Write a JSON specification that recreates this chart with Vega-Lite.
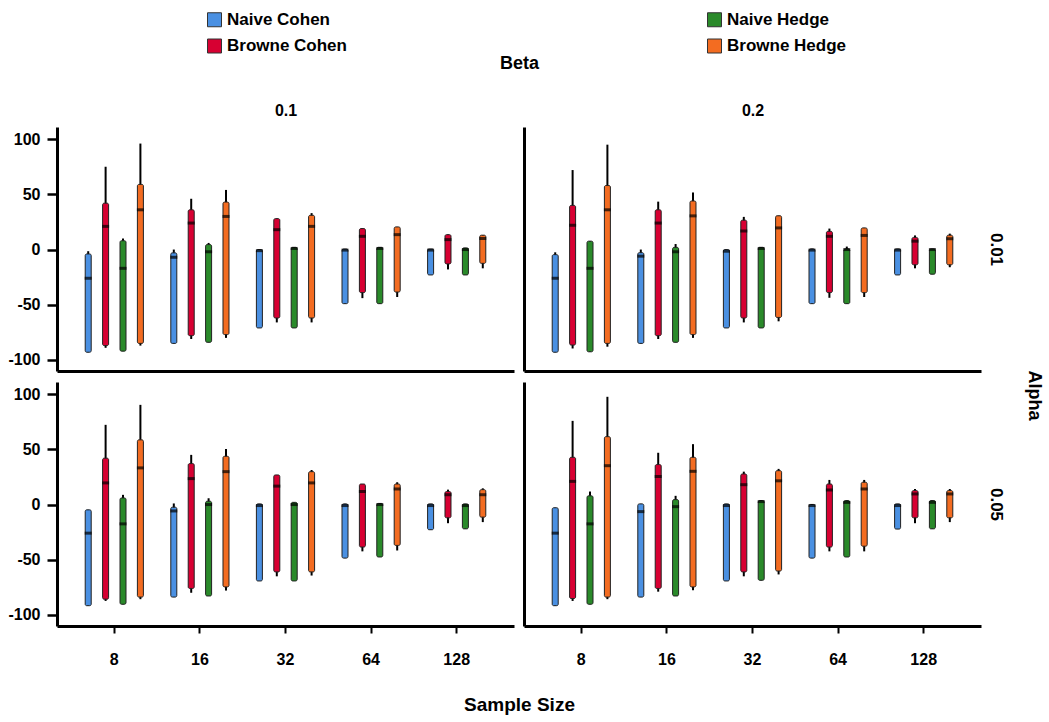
{
"$schema": "https://vega.github.io/schema/vega-lite/v6.json",
"padding": {"left": 7, "top": 11, "right": 3, "bottom": 3},
"datasets": {"d": [
{"a":"0.01","b":"0.1","n":8,"m":"Naive Cohen","lo":-93,"q1":-93,"md":-26,"q3":-4,"hi":-1.5},
{"a":"0.01","b":"0.1","n":8,"m":"Browne Cohen","lo":-89,"q1":-87,"md":21,"q3":42,"hi":75},
{"a":"0.01","b":"0.1","n":8,"m":"Naive Hedge","lo":-92,"q1":-92,"md":-17,"q3":8,"hi":10},
{"a":"0.01","b":"0.1","n":8,"m":"Browne Hedge","lo":-87,"q1":-85,"md":36,"q3":59,"hi":96},
{"a":"0.01","b":"0.1","n":16,"m":"Naive Cohen","lo":-85,"q1":-85,"md":-7,"q3":-3,"hi":0},
{"a":"0.01","b":"0.1","n":16,"m":"Browne Cohen","lo":-81,"q1":-78,"md":24,"q3":36,"hi":46},
{"a":"0.01","b":"0.1","n":16,"m":"Naive Hedge","lo":-84,"q1":-84,"md":-2,"q3":4.5,"hi":6},
{"a":"0.01","b":"0.1","n":16,"m":"Browne Hedge","lo":-80,"q1":-77,"md":30,"q3":43,"hi":54},
{"a":"0.01","b":"0.1","n":32,"m":"Naive Cohen","lo":-71,"q1":-71,"md":-1,"q3":0,"hi":0},
{"a":"0.01","b":"0.1","n":32,"m":"Browne Cohen","lo":-66,"q1":-62,"md":18,"q3":28,"hi":28},
{"a":"0.01","b":"0.1","n":32,"m":"Naive Hedge","lo":-71,"q1":-71,"md":1,"q3":2,"hi":2},
{"a":"0.01","b":"0.1","n":32,"m":"Browne Hedge","lo":-66,"q1":-62,"md":21,"q3":31,"hi":33},
{"a":"0.01","b":"0.1","n":64,"m":"Naive Cohen","lo":-49,"q1":-49,"md":-0.5,"q3":0.5,"hi":0.5},
{"a":"0.01","b":"0.1","n":64,"m":"Browne Cohen","lo":-44,"q1":-39,"md":12,"q3":19,"hi":19},
{"a":"0.01","b":"0.1","n":64,"m":"Naive Hedge","lo":-49,"q1":-49,"md":1,"q3":2,"hi":2},
{"a":"0.01","b":"0.1","n":64,"m":"Browne Hedge","lo":-43,"q1":-38.5,"md":13.5,"q3":20.5,"hi":20.5},
{"a":"0.01","b":"0.1","n":128,"m":"Naive Cohen","lo":-23,"q1":-23,"md":-0.5,"q3":0.5,"hi":0.5},
{"a":"0.01","b":"0.1","n":128,"m":"Browne Cohen","lo":-18,"q1":-13,"md":9,"q3":13.5,"hi":13.5},
{"a":"0.01","b":"0.1","n":128,"m":"Naive Hedge","lo":-23,"q1":-23,"md":0,"q3":1.5,"hi":1.5},
{"a":"0.01","b":"0.1","n":128,"m":"Browne Hedge","lo":-17,"q1":-12.5,"md":10,"q3":13,"hi":13},
{"a":"0.01","b":"0.2","n":8,"m":"Naive Cohen","lo":-93,"q1":-93,"md":-26,"q3":-4.6,"hi":-2.5},
{"a":"0.01","b":"0.2","n":8,"m":"Browne Cohen","lo":-89.6,"q1":-86.5,"md":22,"q3":40,"hi":72},
{"a":"0.01","b":"0.2","n":8,"m":"Naive Hedge","lo":-92.6,"q1":-92.6,"md":-17,"q3":7.6,"hi":7.6},
{"a":"0.01","b":"0.2","n":8,"m":"Browne Hedge","lo":-88,"q1":-85,"md":36,"q3":58,"hi":95},
{"a":"0.01","b":"0.2","n":16,"m":"Naive Cohen","lo":-85,"q1":-85,"md":-6,"q3":-2.8,"hi":0},
{"a":"0.01","b":"0.2","n":16,"m":"Browne Cohen","lo":-81,"q1":-78,"md":24,"q3":36,"hi":43.4},
{"a":"0.01","b":"0.2","n":16,"m":"Naive Hedge","lo":-84,"q1":-84,"md":-2,"q3":2,"hi":5},
{"a":"0.01","b":"0.2","n":16,"m":"Browne Hedge","lo":-80,"q1":-77,"md":30.5,"q3":44,"hi":51.7},
{"a":"0.01","b":"0.2","n":32,"m":"Naive Cohen","lo":-71,"q1":-71,"md":-1.5,"q3":0,"hi":0},
{"a":"0.01","b":"0.2","n":32,"m":"Browne Cohen","lo":-66,"q1":-62,"md":16.8,"q3":26.6,"hi":29.6},
{"a":"0.01","b":"0.2","n":32,"m":"Naive Hedge","lo":-71,"q1":-71,"md":1,"q3":2,"hi":2},
{"a":"0.01","b":"0.2","n":32,"m":"Browne Hedge","lo":-65,"q1":-61.5,"md":19.6,"q3":30.6,"hi":30.6},
{"a":"0.01","b":"0.2","n":64,"m":"Naive Cohen","lo":-49,"q1":-49,"md":-0.5,"q3":0.6,"hi":0.6},
{"a":"0.01","b":"0.2","n":64,"m":"Browne Cohen","lo":-43.7,"q1":-39,"md":12,"q3":16.5,"hi":19},
{"a":"0.01","b":"0.2","n":64,"m":"Naive Hedge","lo":-49,"q1":-49,"md":0,"q3":0.6,"hi":2.7},
{"a":"0.01","b":"0.2","n":64,"m":"Browne Hedge","lo":-43,"q1":-39,"md":12.8,"q3":19.6,"hi":19.6},
{"a":"0.01","b":"0.2","n":128,"m":"Naive Cohen","lo":-23,"q1":-23,"md":-0.5,"q3":0.6,"hi":0.6},
{"a":"0.01","b":"0.2","n":128,"m":"Browne Cohen","lo":-17,"q1":-13.8,"md":7.6,"q3":11,"hi":12.8},
{"a":"0.01","b":"0.2","n":128,"m":"Naive Hedge","lo":-22.3,"q1":-22.3,"md":0,"q3":0.6,"hi":0.6},
{"a":"0.01","b":"0.2","n":128,"m":"Browne Hedge","lo":-16,"q1":-13.8,"md":9.8,"q3":13,"hi":14.4},
{"a":"0.05","b":"0.1","n":8,"m":"Naive Cohen","lo":-91.6,"q1":-91.6,"md":-25.9,"q3":-4.8,"hi":-4.8},
{"a":"0.05","b":"0.1","n":8,"m":"Browne Cohen","lo":-87.3,"q1":-85.7,"md":19.6,"q3":42,"hi":72.2},
{"a":"0.05","b":"0.1","n":8,"m":"Naive Hedge","lo":-90.3,"q1":-90.3,"md":-17.5,"q3":6,"hi":8.8},
{"a":"0.05","b":"0.1","n":8,"m":"Browne Hedge","lo":-85.7,"q1":-83.8,"md":33.2,"q3":58.6,"hi":90.3},
{"a":"0.05","b":"0.1","n":16,"m":"Naive Cohen","lo":-83.8,"q1":-83.8,"md":-5.8,"q3":-2.4,"hi":1},
{"a":"0.05","b":"0.1","n":16,"m":"Browne Cohen","lo":-79.9,"q1":-76,"md":23.5,"q3":37.1,"hi":45},
{"a":"0.05","b":"0.1","n":16,"m":"Naive Hedge","lo":-82.8,"q1":-82.8,"md":0,"q3":3,"hi":5.7},
{"a":"0.05","b":"0.1","n":16,"m":"Browne Hedge","lo":-77.9,"q1":-74.6,"md":29.8,"q3":43.7,"hi":50.3},
{"a":"0.05","b":"0.1","n":32,"m":"Naive Cohen","lo":-69.2,"q1":-69.2,"md":-0.9,"q3":0.6,"hi":0.6},
{"a":"0.05","b":"0.1","n":32,"m":"Browne Cohen","lo":-65,"q1":-61,"md":16.7,"q3":26.8,"hi":26.8},
{"a":"0.05","b":"0.1","n":32,"m":"Naive Hedge","lo":-69.2,"q1":-69.2,"md":0,"q3":2,"hi":2},
{"a":"0.05","b":"0.1","n":32,"m":"Browne Hedge","lo":-64.3,"q1":-61,"md":19.6,"q3":29.8,"hi":31.3},
{"a":"0.05","b":"0.1","n":64,"m":"Naive Cohen","lo":-48.5,"q1":-48.5,"md":-0.9,"q3":0.6,"hi":0.6},
{"a":"0.05","b":"0.1","n":64,"m":"Browne Cohen","lo":-42.4,"q1":-38.5,"md":11.8,"q3":18.6,"hi":18.6},
{"a":"0.05","b":"0.1","n":64,"m":"Naive Hedge","lo":-47.5,"q1":-47.5,"md":0,"q3":1,"hi":1},
{"a":"0.05","b":"0.1","n":64,"m":"Browne Hedge","lo":-41.6,"q1":-37,"md":14.1,"q3":18.6,"hi":20.2},
{"a":"0.05","b":"0.1","n":128,"m":"Naive Cohen","lo":-22.8,"q1":-22.8,"md":-0.9,"q3":0.6,"hi":0.6},
{"a":"0.05","b":"0.1","n":128,"m":"Browne Cohen","lo":-16.9,"q1":-12,"md":8.9,"q3":11.8,"hi":13.5},
{"a":"0.05","b":"0.1","n":128,"m":"Naive Hedge","lo":-22,"q1":-22,"md":-0.9,"q3":0.6,"hi":0.6},
{"a":"0.05","b":"0.1","n":128,"m":"Browne Hedge","lo":-15.9,"q1":-11.4,"md":8.9,"q3":13.5,"hi":14.7},
{"a":"0.05","b":"0.2","n":8,"m":"Naive Cohen","lo":-91.6,"q1":-91.6,"md":-25.9,"q3":-2.9,"hi":-2.9},
{"a":"0.05","b":"0.2","n":8,"m":"Browne Cohen","lo":-87.3,"q1":-85.1,"md":21,"q3":42.8,"hi":75.8},
{"a":"0.05","b":"0.2","n":8,"m":"Naive Hedge","lo":-90.3,"q1":-90.3,"md":-17.5,"q3":7.9,"hi":11.8},
{"a":"0.05","b":"0.2","n":8,"m":"Browne Hedge","lo":-85.7,"q1":-83.8,"md":35.2,"q3":61.5,"hi":97.6},
{"a":"0.05","b":"0.2","n":16,"m":"Naive Cohen","lo":-83.8,"q1":-83.8,"md":-6.4,"q3":0.6,"hi":0.6},
{"a":"0.05","b":"0.2","n":16,"m":"Browne Cohen","lo":-78.9,"q1":-76,"md":25.4,"q3":36.2,"hi":46.9},
{"a":"0.05","b":"0.2","n":16,"m":"Naive Hedge","lo":-82.8,"q1":-82.8,"md":-1.9,"q3":4.5,"hi":7.9},
{"a":"0.05","b":"0.2","n":16,"m":"Browne Hedge","lo":-77.6,"q1":-74.6,"md":30.1,"q3":42.8,"hi":54.7},
{"a":"0.05","b":"0.2","n":32,"m":"Naive Cohen","lo":-69.2,"q1":-69.2,"md":-0.9,"q3":0.6,"hi":0.6},
{"a":"0.05","b":"0.2","n":32,"m":"Browne Cohen","lo":-65,"q1":-61,"md":18,"q3":27.7,"hi":29.8},
{"a":"0.05","b":"0.2","n":32,"m":"Naive Hedge","lo":-68.6,"q1":-68.6,"md":2.7,"q3":3.6,"hi":3.6},
{"a":"0.05","b":"0.2","n":32,"m":"Browne Hedge","lo":-63.3,"q1":-60.2,"md":21.5,"q3":30.7,"hi":32.3},
{"a":"0.05","b":"0.2","n":64,"m":"Naive Cohen","lo":-48.5,"q1":-48.5,"md":-0.9,"q3":0.1,"hi":0.1},
{"a":"0.05","b":"0.2","n":64,"m":"Browne Cohen","lo":-42.4,"q1":-38.5,"md":13.2,"q3":18.6,"hi":22.3},
{"a":"0.05","b":"0.2","n":64,"m":"Naive Hedge","lo":-47.5,"q1":-47.5,"md":2,"q3":3.6,"hi":3.6},
{"a":"0.05","b":"0.2","n":64,"m":"Browne Hedge","lo":-42.4,"q1":-37.7,"md":14.1,"q3":20.2,"hi":22.3},
{"a":"0.05","b":"0.2","n":128,"m":"Naive Cohen","lo":-22.2,"q1":-22.2,"md":-0.9,"q3":0.6,"hi":0.6},
{"a":"0.05","b":"0.2","n":128,"m":"Browne Cohen","lo":-16.9,"q1":-12,"md":9.6,"q3":12.7,"hi":14.1},
{"a":"0.05","b":"0.2","n":128,"m":"Naive Hedge","lo":-22,"q1":-22,"md":2,"q3":3.6,"hi":3.6},
{"a":"0.05","b":"0.2","n":128,"m":"Browne Hedge","lo":-15.9,"q1":-12,"md":9.6,"q3":12.7,"hi":14.1}
]},
"data": {"name": "d"},
"columns": 2,
"spacing": {"row": 11, "column": 10},
"bounds": "flush",
"concat": [
{"width": 457, "height": 244,
 "title": {"text": "Beta", "font": "Liberation Sans", "fontSize": 18, "fontWeight": "bold", "color": "black", "anchor": "middle", "frame": "group", "dx": 234, "offset": 29},
 "transform": [{"filter": "datum.a == '0.01' && datum.b == '0.1'"}],
 "encoding": {
  "x": {"field": "n", "type": "ordinal", "scale": {"paddingInner": 0.187, "paddingOuter": 0.263}, "axis": {"orient": "bottom", "title": null, "labels": false, "ticks": false, "domainWidth": 3}},
  "xOffset": {"field": "m", "type": "nominal", "sort": ["Naive Cohen", "Browne Cohen", "Naive Hedge", "Browne Hedge"], "scale": {"paddingInner": 0, "paddingOuter": 0}}
 },
 "resolve": {"axis": {"y": "independent", "x": "independent"}},
 "layer": [
  {"mark": {"type": "rule", "color": "black", "strokeWidth": 2}, "encoding": {"y": {"field": "lo", "type": "quantitative", "scale": {"domain": [-110, 111], "nice": false, "zero": false}, "axis": {"orient": "left", "values": [-100, -50, 0, 50, 100], "title": null, "tickSize": 10, "tickWidth": 2.5, "domainWidth": 3, "labelPadding": 7, "labelExpr": "datum.value < 0 ? '-' + abs(datum.value) : '' + datum.value"}}, "y2": {"field": "hi"}}},
  {"mark": {"type": "bar", "width": 6, "stroke": "#222222", "strokeWidth": 1, "cornerRadius": 1.5}, "encoding": {
   "x": {"field": "n", "type": "ordinal", "axis": {"orient": "top", "title": "0.1", "labels": false, "ticks": false, "domain": false, "titlePadding": 9, "titleFontSize": 16}},
   "y": {"field": "q1", "type": "quantitative", "axis": null}, "y2": {"field": "q3"},
   "color": {"field": "m", "type": "nominal", "scale": {"domain": ["Naive Cohen", "Browne Cohen", "Naive Hedge", "Browne Hedge"], "range": ["#4a90e2", "#d70032", "#2a8a2a", "#f36c21"]}, "legend": {"orient": "none", "legendX": 149, "legendY": -116, "columns": 2, "columnPadding": 358, "rowPadding": 7.5, "title": null, "symbolType": "square", "symbolSize": 196, "symbolStrokeColor": "#333333", "symbolStrokeWidth": 1, "symbolOpacity": 1, "labelFont": "Liberation Sans", "labelFontSize": 17, "labelFontWeight": "bold", "labelColor": "black", "labelOffset": 4, "padding": 0}}}},
  {"mark": {"type": "tick", "color": "black", "size": 7, "thickness": 3}, "encoding": {"x": {"field": "n", "type": "ordinal", "axis": null}, "y": {"field": "md", "type": "quantitative", "axis": null}}}
 ]},
{"width": 457, "height": 244,
 "transform": [{"filter": "datum.a == '0.01' && datum.b == '0.2'"}],
 "encoding": {
  "x": {"field": "n", "type": "ordinal", "scale": {"paddingInner": 0.187, "paddingOuter": 0.263}, "axis": {"orient": "bottom", "title": null, "labels": false, "ticks": false, "domainWidth": 3}},
  "xOffset": {"field": "m", "type": "nominal", "sort": ["Naive Cohen", "Browne Cohen", "Naive Hedge", "Browne Hedge"], "scale": {"paddingInner": 0, "paddingOuter": 0}}
 },
 "resolve": {"axis": {"y": "independent", "x": "independent"}},
 "layer": [
  {"mark": {"type": "rule", "color": "black", "strokeWidth": 2}, "encoding": {"y": {"field": "lo", "type": "quantitative", "scale": {"domain": [-110, 111], "nice": false, "zero": false}, "axis": {"orient": "left", "labels": false, "ticks": false, "title": null, "domainWidth": 3}}, "y2": {"field": "hi"}}},
  {"mark": {"type": "bar", "width": 6, "stroke": "#222222", "strokeWidth": 1, "cornerRadius": 1.5}, "encoding": {
   "x": {"field": "n", "type": "ordinal", "axis": {"orient": "top", "title": "0.2", "labels": false, "ticks": false, "domain": false, "titlePadding": 9, "titleFontSize": 16}},
   "y": {"field": "q1", "type": "quantitative", "axis": {"orient": "right", "title": "0.01", "labels": false, "ticks": false, "domain": false, "titleAngle": 90, "titleFontSize": 17, "titlePadding": 5}}, "y2": {"field": "q3"},
   "color": {"field": "m", "type": "nominal", "scale": {"domain": ["Naive Cohen", "Browne Cohen", "Naive Hedge", "Browne Hedge"], "range": ["#4a90e2", "#d70032", "#2a8a2a", "#f36c21"]}, "legend": {"orient": "none", "legendX": 149, "legendY": -116, "columns": 2, "columnPadding": 358, "rowPadding": 7.5, "title": null, "symbolType": "square", "symbolSize": 196, "symbolStrokeColor": "#333333", "symbolStrokeWidth": 1, "symbolOpacity": 1, "labelFont": "Liberation Sans", "labelFontSize": 17, "labelFontWeight": "bold", "labelColor": "black", "labelOffset": 4, "padding": 0}}}},
  {"mark": {"type": "tick", "color": "black", "size": 7, "thickness": 3}, "encoding": {"x": {"field": "n", "type": "ordinal", "axis": null}, "y": {"field": "md", "type": "quantitative", "axis": null}}}
 ]},
{"width": 457, "height": 244,
 "transform": [{"filter": "datum.a == '0.05' && datum.b == '0.1'"}],
 "encoding": {
  "x": {"field": "n", "type": "ordinal", "scale": {"paddingInner": 0.187, "paddingOuter": 0.263}, "axis": {"title": "Sample Size", "titleX": 462, "titleFontSize": 19, "titlePadding": 28, "labelAngle": 0, "tickSize": 7, "tickWidth": 2, "domainWidth": 3, "labelPadding": 18}},
  "xOffset": {"field": "m", "type": "nominal", "sort": ["Naive Cohen", "Browne Cohen", "Naive Hedge", "Browne Hedge"], "scale": {"paddingInner": 0, "paddingOuter": 0}}
 },
 "resolve": {"axis": {"y": "independent"}},
 "layer": [
  {"mark": {"type": "rule", "color": "black", "strokeWidth": 2}, "encoding": {"y": {"field": "lo", "type": "quantitative", "scale": {"domain": [-110, 111], "nice": false, "zero": false}, "axis": {"orient": "left", "values": [-100, -50, 0, 50, 100], "title": null, "tickSize": 10, "tickWidth": 2.5, "domainWidth": 3, "labelPadding": 7, "labelExpr": "datum.value < 0 ? '-' + abs(datum.value) : '' + datum.value"}}, "y2": {"field": "hi"}}},
  {"mark": {"type": "bar", "width": 6, "stroke": "#222222", "strokeWidth": 1, "cornerRadius": 1.5}, "encoding": {"y": {"field": "q1", "type": "quantitative", "axis": null}, "y2": {"field": "q3"},
   "color": {"field": "m", "type": "nominal", "scale": {"domain": ["Naive Cohen", "Browne Cohen", "Naive Hedge", "Browne Hedge"], "range": ["#4a90e2", "#d70032", "#2a8a2a", "#f36c21"]}, "legend": {"orient": "none", "legendX": 149, "legendY": -116, "columns": 2, "columnPadding": 358, "rowPadding": 7.5, "title": null, "symbolType": "square", "symbolSize": 196, "symbolStrokeColor": "#333333", "symbolStrokeWidth": 1, "symbolOpacity": 1, "labelFont": "Liberation Sans", "labelFontSize": 17, "labelFontWeight": "bold", "labelColor": "black", "labelOffset": 4, "padding": 0}}}},
  {"mark": {"type": "tick", "color": "black", "size": 7, "thickness": 3}, "encoding": {"y": {"field": "md", "type": "quantitative", "axis": null}}}
 ]},
{"width": 457, "height": 244,
 "transform": [{"filter": "datum.a == '0.05' && datum.b == '0.2'"}],
 "encoding": {
  "x": {"field": "n", "type": "ordinal", "scale": {"paddingInner": 0.187, "paddingOuter": 0.263}, "axis": {"title": null, "labelAngle": 0, "tickSize": 7, "tickWidth": 2, "domainWidth": 3, "labelPadding": 18}},
  "xOffset": {"field": "m", "type": "nominal", "sort": ["Naive Cohen", "Browne Cohen", "Naive Hedge", "Browne Hedge"], "scale": {"paddingInner": 0, "paddingOuter": 0}}
 },
 "resolve": {"axis": {"y": "independent"}},
 "layer": [
  {"mark": {"type": "rule", "color": "black", "strokeWidth": 2}, "encoding": {"y": {"field": "lo", "type": "quantitative", "scale": {"domain": [-110, 111], "nice": false, "zero": false}, "axis": {"orient": "left", "labels": false, "ticks": false, "title": null, "domainWidth": 3}}, "y2": {"field": "hi"}}},
  {"mark": {"type": "bar", "width": 6, "stroke": "#222222", "strokeWidth": 1, "cornerRadius": 1.5}, "encoding": {"y": {"field": "q1", "type": "quantitative", "axis": {"orient": "right", "title": "0.05", "labels": false, "ticks": false, "domain": false, "titleAngle": 90, "titleFontSize": 17, "titlePadding": 5}}, "y2": {"field": "q3"},
   "color": {"field": "m", "type": "nominal", "scale": {"domain": ["Naive Cohen", "Browne Cohen", "Naive Hedge", "Browne Hedge"], "range": ["#4a90e2", "#d70032", "#2a8a2a", "#f36c21"]}, "legend": {"orient": "none", "legendX": 149, "legendY": -116, "columns": 2, "columnPadding": 358, "rowPadding": 7.5, "title": null, "symbolType": "square", "symbolSize": 196, "symbolStrokeColor": "#333333", "symbolStrokeWidth": 1, "symbolOpacity": 1, "labelFont": "Liberation Sans", "labelFontSize": 17, "labelFontWeight": "bold", "labelColor": "black", "labelOffset": 4, "padding": 0}}}},
  {"mark": {"type": "tick", "color": "black", "size": 7, "thickness": 3}, "encoding": {"y": {"field": "md", "type": "quantitative", "axis": {"orient": "right", "title": "Alpha", "labels": false, "ticks": false, "domain": false, "offset": 33, "titleAngle": 90, "titleFontSize": 18, "titlePadding": 10, "titleY": 13}}}}
 ]}
],
"config": {
 "view": {"stroke": null},
 "font": "Liberation Sans",
 "axis": {"grid": false, "domainColor": "black", "tickColor": "black", "labelColor": "black", "titleColor": "black", "labelFont": "Liberation Sans", "labelFontWeight": "bold", "labelFontSize": 16, "titleFont": "Liberation Sans", "titleFontWeight": "bold"}
}
}
